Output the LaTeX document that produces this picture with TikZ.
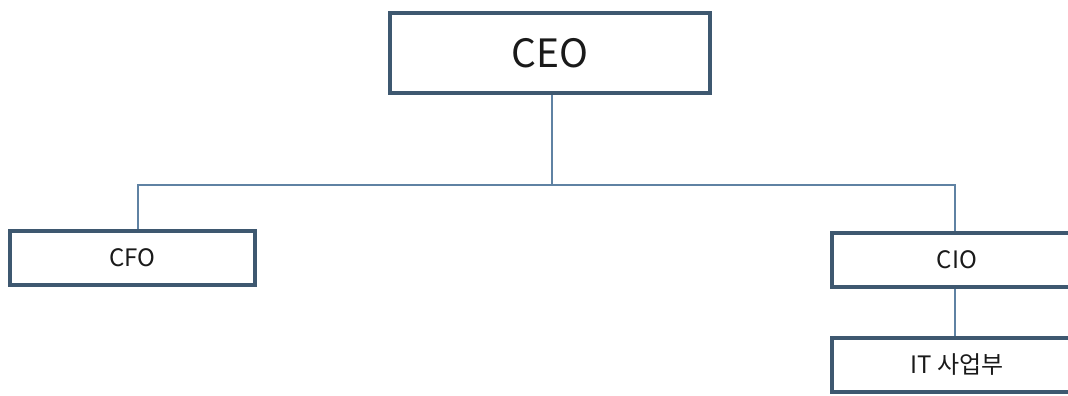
\documentclass[tikz,border=0pt]{standalone}
\usepackage{fontspec}
\setmainfont{Noto Sans CJK KR}
\definecolor{boxline}{HTML}{3E5870}
\definecolor{conn}{HTML}{5F82A3}
\definecolor{txt}{HTML}{1A1A1A}
\begin{document}
\begin{tikzpicture}[x=1pt,y=-1pt,
  orgbox/.style={draw=boxline,line width=3.5pt,fill=white,rectangle,inner sep=0pt,text=txt},
  connline/.style={draw=conn,line width=2.3pt}]
\useasboundingbox (0,0) rectangle (1068,396);
\clip (0,0) rectangle (1068,396);
\node[orgbox,minimum width=320pt,minimum height=80pt,font=\fontsize{39}{42}\selectfont] (ceo) at (550,53) {CEO};
\node[orgbox,minimum width=245pt,minimum height=54pt,font=\fontsize{24}{28}\selectfont] (cfo) at (132.5,258) {CFO};
\node[orgbox,minimum width=250pt,minimum height=54pt,font=\fontsize{24}{28}\selectfont] (cio) at (957,260) {CIO};
\node[orgbox,minimum width=250pt,minimum height=54pt,font=\fontsize{24}{28}\selectfont] (it) at (957,365) {IT 사업부};
\coordinate (hub) at (552,185);
\draw[connline] (ceo.south -| hub) -- (hub);
\draw[connline] (hub) -- (138,185) -- (cfo.north -| 138,0);
\draw[connline] (hub) -- (955,185) -- (cio.north -| 955,0);
\draw[connline] (cio.south -| 955,0) -- (it.north -| 955,0);
\end{tikzpicture}
\end{document}
